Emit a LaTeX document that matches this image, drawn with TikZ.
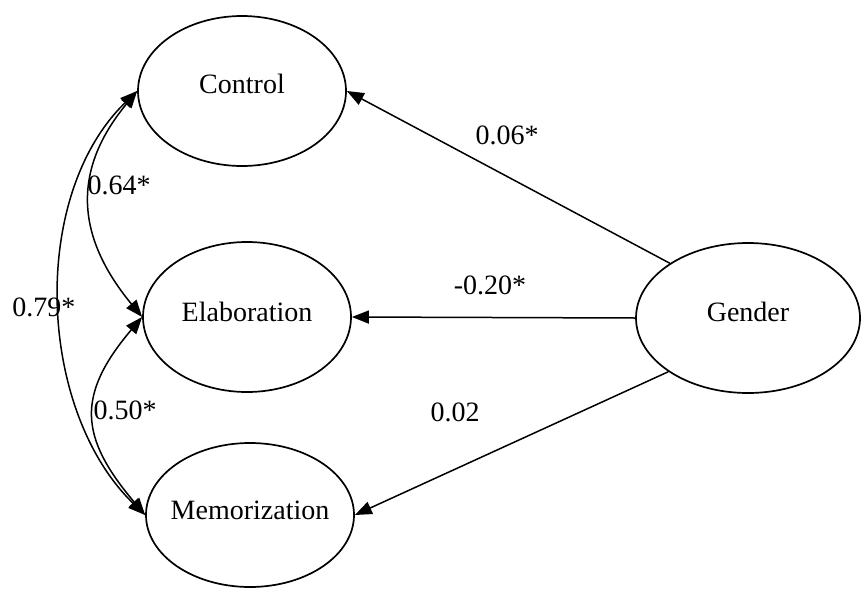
\documentclass[tikz,border=0pt]{standalone}
\usepackage{fontspec}
\setmainfont{Liberation Serif}
\usetikzlibrary{shapes.geometric,arrows.meta}

\begin{document}
\begin{tikzpicture}[x=1pt,y=-1pt,
  latent/.style={draw,ellipse,line width=1.7pt,inner sep=0pt,
                 minimum width=208pt,minimum height=150pt},
  lbl/.style={font=\fontsize{28}{33}\selectfont,inner sep=0pt},
  path/.style={line width=1.5pt,-{Triangle[length=17pt,width=13pt]}},
  cov/.style={line width=1.5pt,
              {Triangle[length=17pt,width=13pt]}-{Triangle[length=17pt,width=13pt]}}]

  \useasboundingbox (0,0) rectangle (861,589);

  % latent factors
  \node[latent,label={[lbl,yshift=7pt]center:Control}] (ctl) at (242,91) {};
  \node[latent,label={[lbl,yshift=5pt]center:Elaboration}] (ela) at (247,317) {};
  \node[latent,minimum height=144pt,label={[lbl,yshift=5pt]center:Memorization}] (mem) at (250,515) {};
  \node[latent,minimum width=224pt,label={[lbl,yshift=6pt]center:Gender}] (gen) at (748,318) {};

  % regression paths from Gender
  \draw[path] (gen.145.5) -- (ctl.east);
  \draw[path] (gen.west) -- (ela.east);
  \draw[path] (gen.214.5) -- (mem.east);

  % covariances among the factors
  \draw[cov] (ctl.west) .. controls +(-66,80) and +(-66,-80) .. (ela.west);
  \draw[cov] (ela.west) .. controls +(-66,78) and +(-66,-78) .. (mem.west);
  \draw[cov] (ctl.west) .. controls +(-108,105) and +(-108,-105) .. (mem.west);

  % coefficients
  \node[lbl] (c1) at (507,135) {0.06*};
  \node[lbl] (c2) at (490,285) {-0.20*};
  \node[lbl] (c3) at (455,412) {0.02};
  \node[lbl] (c4) at (119,185) {0.64*};
  \node[lbl] (c5) at (44,307) {0.79*};
  \node[lbl] (c6) at (125,410) {0.50*};
\end{tikzpicture}
\end{document}
